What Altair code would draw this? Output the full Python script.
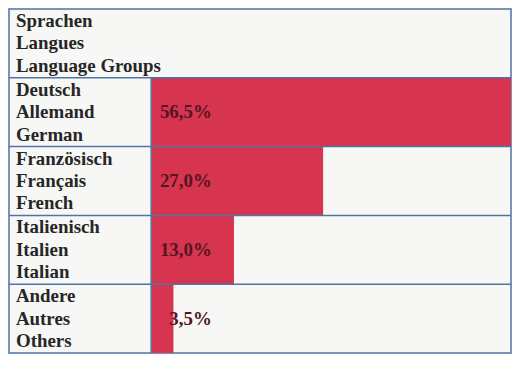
import altair as alt
import pandas as pd

# ---- data ----
header_lines = ["Sprachen", "Langues", "Language Groups"]
categories = [
    "Deutsch\nAllemand\nGerman",
    "Französisch\nFrançais\nFrench",
    "Italienisch\nItalien\nItalian",
    "Andere\nAutres\nOthers",
]
values = [56.5, 27.0, 13.0, 3.5]
value_labels = ["56,5%", "27,0%", "13,0%", "3,5%"]

# ---- layout / style ----
W, H = 505, 346
LEFT = 143          # width of the label column (pixels)
N_ROWS = 5          # header + 4 languages
LH = 22.5           # line height of the three-line labels
BAR = "#d6344f"
BORDER = "#4f74a3"
TXT = "#262626"
PCT = "#561424"
BG = "#f7f8f6"
FONT = "Liberation Serif, Times New Roman, serif"

rows = list(range(1, len(categories) + 1))
df = pd.DataFrame({
    "row": rows,
    "row2": [r + 1 for r in rows],
    "mid": [r + 0.5 for r in rows],
    "start": [0.0] * len(rows),
    "value": values,
    "cat": categories,
    "lab": value_labels,
})
hdr = pd.DataFrame({"mid": [0.5], "txt": ["\n".join(header_lines)]})
lines = pd.DataFrame({"row": rows})
vline = pd.DataFrame({"y1": [1], "y2": [N_ROWS]})

xs = alt.Scale(domain=[0, max(values)], range=[LEFT, W])
ys = alt.Scale(domain=[0, N_ROWS], range=[0, H])

bars = alt.Chart(df).mark_rect(color=BAR).encode(
    x=alt.X("start:Q", scale=xs, axis=None),
    x2="value:Q",
    y=alt.Y("row:Q", scale=ys, axis=None),
    y2="row2:Q",
)

hrules = alt.Chart(lines).mark_rule(color=BORDER, strokeWidth=1.5).encode(
    y=alt.Y("row:Q", scale=ys, axis=None),
    x=alt.value(0),
    x2=alt.value(W),
)

vrule = alt.Chart(vline).mark_rule(color=BORDER, strokeWidth=1.5).encode(
    x=alt.value(LEFT),
    y=alt.Y("y1:Q", scale=ys, axis=None),
    y2="y2:Q",
)

text_style = dict(
    align="left", baseline="middle", font=FONT, fontWeight="bold",
    fontSize=19, lineHeight=LH, lineBreak="\n", color=TXT, dy=-LH,
)

cat_text = alt.Chart(df).mark_text(**text_style).encode(
    x=alt.value(7),
    y=alt.Y("mid:Q", scale=ys, axis=None),
    text="cat:N",
)

hdr_text = alt.Chart(hdr).mark_text(**text_style).encode(
    x=alt.value(7),
    y=alt.Y("mid:Q", scale=ys, axis=None),
    text="txt:N",
)

pct_text = alt.Chart(df).mark_text(
    align="right", baseline="middle", font=FONT, fontWeight="bold",
    fontSize=19, color=PCT,
).encode(
    x=alt.value(LEFT + 61),
    y=alt.Y("mid:Q", scale=ys, axis=None),
    text="lab:N",
)

chart = alt.layer(bars, hrules, vrule, cat_text, hdr_text, pct_text).properties(
    width=W, height=H, padding=0, background=BG,
).configure_view(stroke=BORDER, strokeWidth=1.5)

chart.save("out.html", embed_options={"renderer": "svg", "actions": False})
